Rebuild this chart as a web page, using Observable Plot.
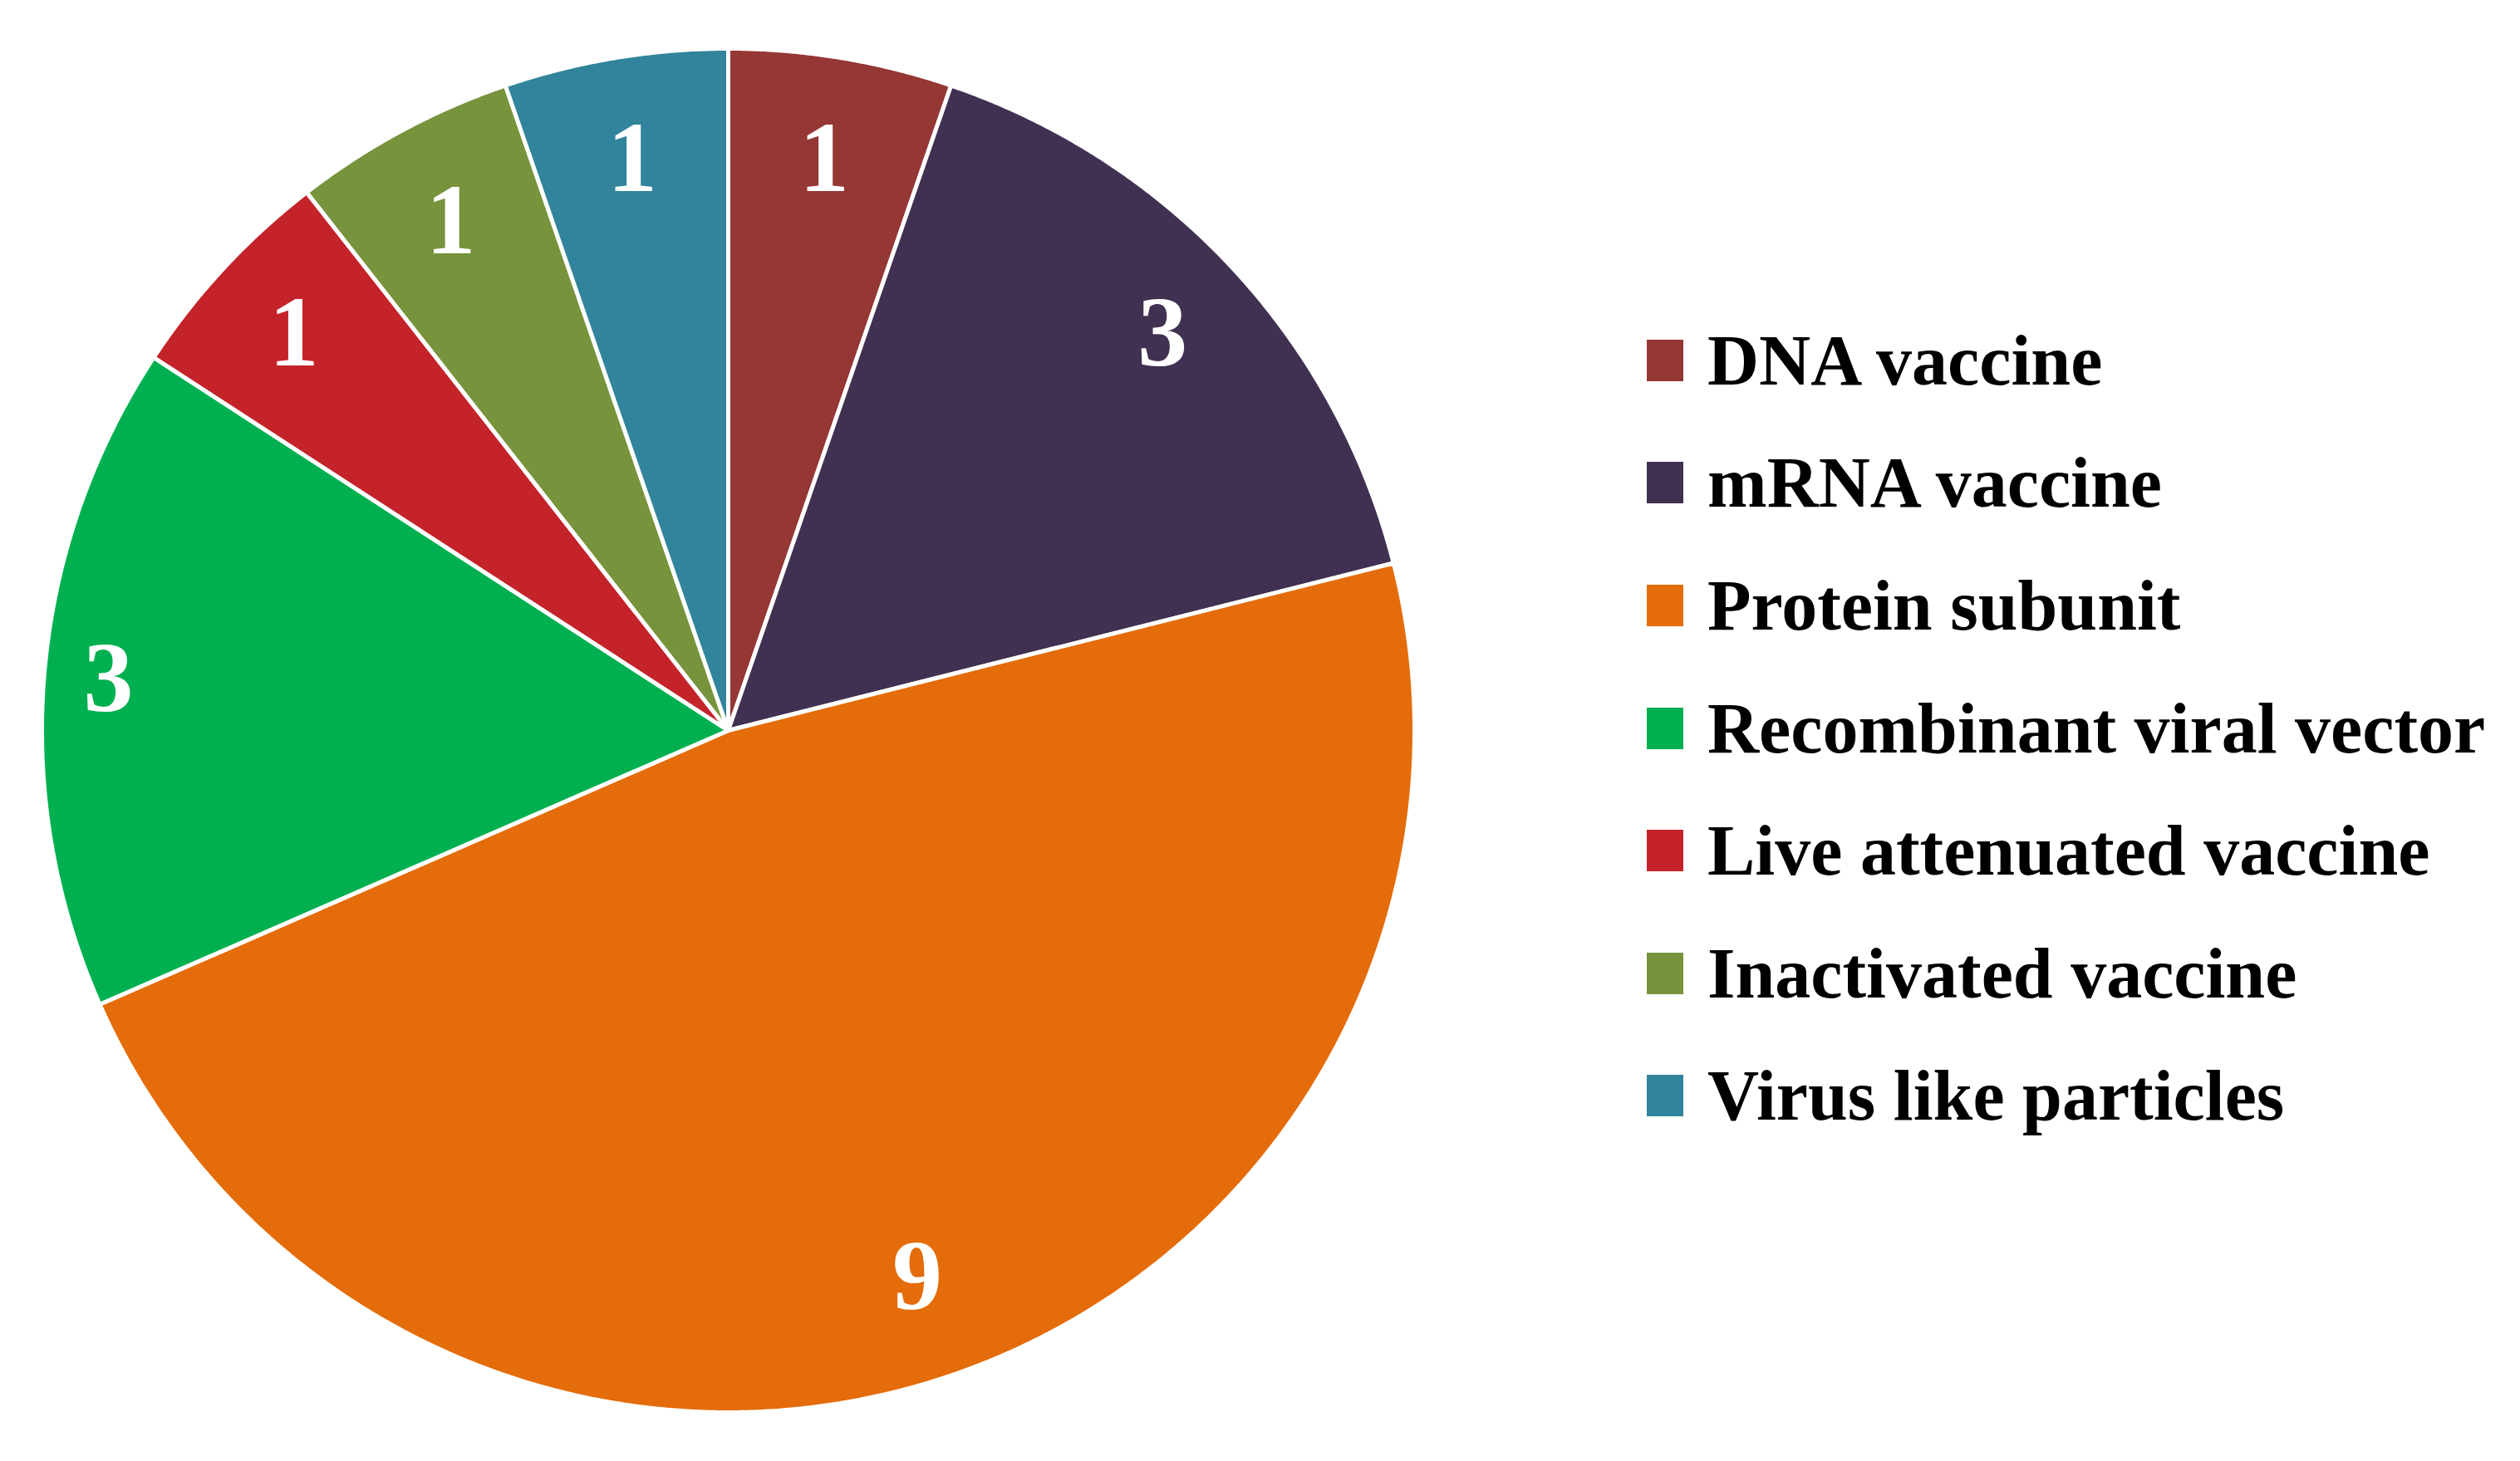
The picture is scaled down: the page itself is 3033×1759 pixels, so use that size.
<!DOCTYPE html>
<html><head><meta charset="utf-8">
<script src="https://cdn.jsdelivr.net/npm/d3@7"></script>
<script src="https://cdn.jsdelivr.net/npm/@observablehq/plot@0.6"></script>
<style>
html,body{margin:0;padding:0;background:#fff;}
#wrap{position:relative;width:3033px;height:1759px;overflow:hidden;background:#fff;}
#chart{position:absolute;left:0;top:0;}
#legend{position:absolute;left:1982px;top:360px;font-family:"Liberation Serif",serif;font-weight:bold;font-size:86px;color:#000;}
.row{height:147.6px;display:flex;align-items:center;}
.sw{width:44px;height:50px;margin-right:29px;flex:none;}
.lb{line-height:1;white-space:nowrap;}
</style></head><body><div id="wrap"><div id="chart"></div><div id="legend"></div></div>
<script>
const categories = ["DNA vaccine", "mRNA vaccine", "Protein subunit", "Recombinant viral vector", "Live attenuated vaccine", "Inactivated vaccine", "Virus like particles"];
const counts = [1, 3, 9, 3, 1, 1, 1];
const colors = ["#953735", "#403152", "#E46C0A", "#00B050", "#C4232A", "#77933C", "#31849B"];

// Build pie geometry from the counts (clockwise from 12 o'clock)
const total = d3.sum(counts);
const rPx = 823; // radius in pixels (used only to convert label offsets)
const slicePts = [];
const labels = [];
let cum = 0;
categories.forEach((cat, i) => {
  const a0 = cum / total * 2 * Math.PI;
  cum += counts[i];
  const a1 = cum / total * 2 * Math.PI;
  const n = Math.max(2, Math.ceil((a1 - a0) / (Math.PI / 720)));
  slicePts.push({cat, x: 0, y: 0});
  for (let k = 0; k <= n; k++) {
    const a = a0 + (a1 - a0) * k / n;
    slicePts.push({cat, x: Math.sin(a), y: Math.cos(a)});
  }
  slicePts.push({cat, x: 0, y: 0});
  // "inside end" style label placement
  const am = (a0 + a1) / 2;
  const s = Math.abs(Math.sin(am)), c = Math.abs(Math.cos(am));
  const inset = (25 * s + 75 * c + 46) / rPx;
  const rr = 1 - inset;
  labels.push({cat, value: counts[i], x: rr * Math.sin(am), y: rr * Math.cos(am)});
});

const plot = Plot.plot({
  width: 1800,
  height: 1759,
  margin: 0,
  x: {domain: [-1, 1], range: [50, 1702], axis: null},
  y: {domain: [-1, 1], range: [1700, 58], axis: null},
  color: {domain: categories, range: colors},
  style: {background: "#fff"},
  marks: [
    Plot.line(slicePts, {x: "x", y: "y", z: "cat", fill: "cat", stroke: "white", strokeWidth: 5, strokeLinejoin: "round", curve: "linear"}),
    Plot.text(labels, {x: "x", y: "y", text: d => String(d.value), fill: "white", fontSize: 120, fontWeight: "bold", fontFamily: "Liberation Serif"})
  ]
});
document.getElementById("chart").appendChild(plot);

const legend = document.getElementById("legend");
categories.forEach((cat, i) => {
  const row = document.createElement("div");
  row.className = "row";
  const sw = document.createElement("div");
  sw.className = "sw";
  sw.style.background = colors[i];
  const lb = document.createElement("div");
  lb.className = "lb";
  lb.textContent = cat;
  row.appendChild(sw);
  row.appendChild(lb);
  legend.appendChild(row);
});
</script>
</body></html>
